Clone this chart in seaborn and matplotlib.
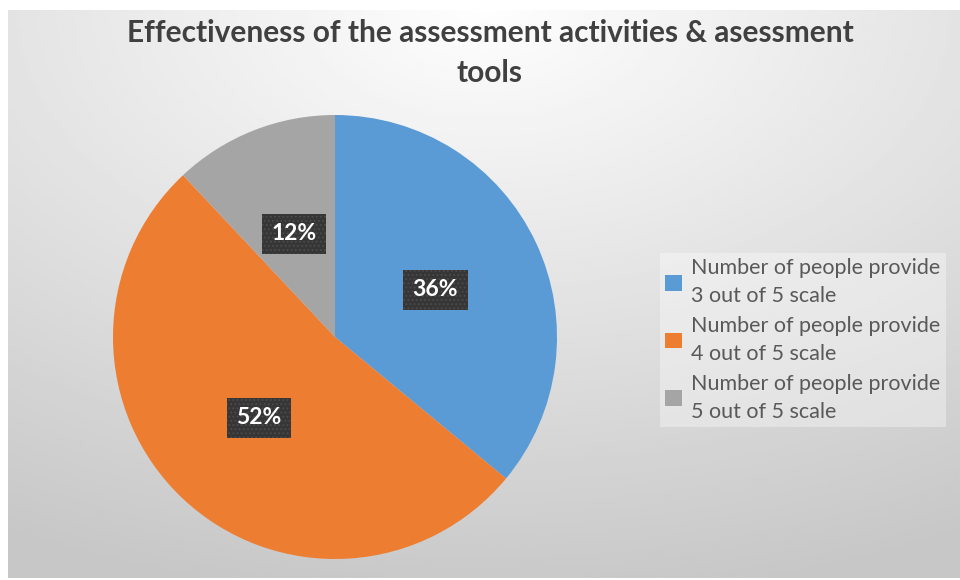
import numpy as np
import matplotlib
matplotlib.use("Agg")
import matplotlib.pyplot as plt
import seaborn as sns
from matplotlib.patches import Patch

# ---- data ----
categories = ["Number of people provide\n3 out of 5 scale",
              "Number of people provide\n4 out of 5 scale",
              "Number of people provide\n5 out of 5 scale"]
shares = [36, 52, 12]
title_text = "Effectiveness of the assessment activities & asessment\ntools"

sns.set_theme(style="white")
plt.rcParams['font.family'] = ['Lato', 'DejaVu Sans']
plt.rcParams['hatch.linewidth'] = 0.8
colors = sns.color_palette(["#5B9BD5", "#ED7D31", "#A5A5A5"])

W, H = 960, 580
fig = plt.figure(figsize=(W / 100, H / 100), dpi=100)
fig.patch.set_facecolor("white")

# background gradient panel
bg = fig.add_axes([8 / W, 2 / H, 1 - 8 / W, 1 - 12 / H])
yy, xx = np.mgrid[0:1:200j, 0:1:300j]
d = np.sqrt(((xx - 0.5) * 1.0) ** 2 + (yy * 1.0) ** 2)
d = np.clip(d / 1.05, 0, 1)
grad = 0.995 - d * (0.995 - 0.78)
bg.imshow(grad, cmap="gray", vmin=0, vmax=1, aspect="auto",
          extent=[0, 1, 1, 0], interpolation="bilinear")
bg.set_axis_off()

# pie
cx, cy, r = 335, 337, 222
ax = fig.add_axes([(cx - r) / W, (H - cy - r) / H, 2 * r / W, 2 * r / H])
wedges, texts, autotexts = ax.pie(
    shares, colors=colors, startangle=90, counterclock=False,
    autopct=lambda p: f"{p:.0f}%", pctdistance=0.5,
    wedgeprops=dict(linewidth=0),
    textprops=dict(color="white", fontsize=16.5, fontweight="bold"))
for t in autotexts:
    t.set_bbox(dict(boxstyle="square,pad=0.42", facecolor="#363636",
                    edgecolor="#4c4c4c", linewidth=0, hatch="...."))
ax.set_xlim(-1, 1)
ax.set_ylim(-1, 1)
ax.set_aspect("equal")
ax.set_axis_off()

fig.text(490 / W, 1 - 53 / H, title_text, ha="center", va="center",
         fontsize=21.5, fontweight="bold", color="#404040", linespacing=1.5)

handles = [Patch(facecolor=c, edgecolor="none") for c in colors]
leg = fig.legend(handles, categories, loc="upper left",
                 bbox_to_anchor=(660 / W, 1 - 253 / H),
                 frameon=True, fontsize=15.5, handlelength=0.75,
                 handleheight=0.75, handletextpad=0.45, labelspacing=0.48,
                 borderpad=0.25, borderaxespad=0)
leg.get_frame().set_facecolor("white")
leg.get_frame().set_alpha(0.35)
leg.get_frame().set_edgecolor("none")
leg.get_frame().set_boxstyle("square", pad=0)
for t in leg.get_texts():
    t.set_color("#595959")
    t.set_linespacing(1.47)

fig.savefig("out.png", dpi=100)
